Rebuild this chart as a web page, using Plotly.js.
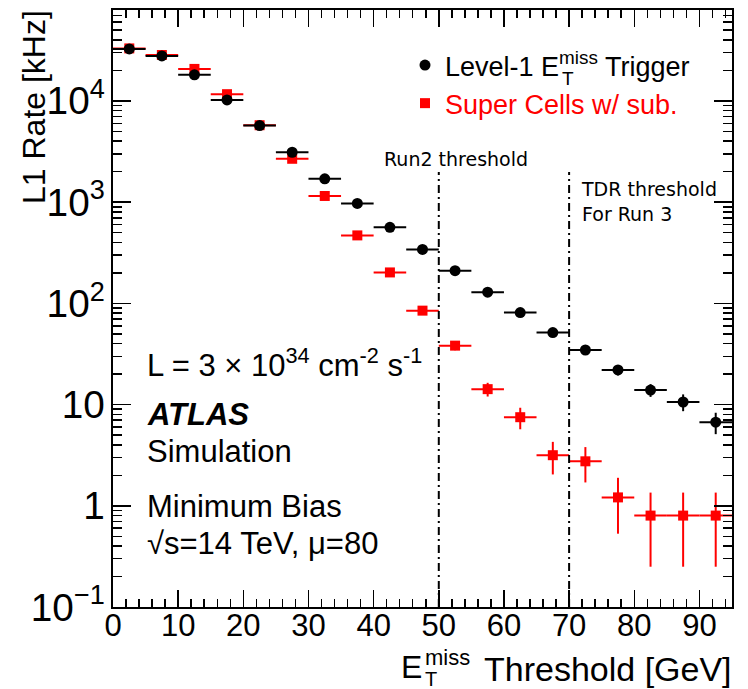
<!DOCTYPE html>
<html><head><meta charset="utf-8">
<script src="https://cdn.plot.ly/plotly-3.0.1.min.js"></script>
<style>html,body{margin:0;padding:0;background:#fff}</style>
</head><body><div id="chart" style="width:748px;height:689px"></div>
<script>
// ---- data ----
const thresholds = [2.5, 7.5, 12.5, 17.5, 22.5, 27.5, 32.5, 37.5, 42.5, 47.5, 52.5, 57.5, 62.5, 67.5, 72.5, 77.5, 82.5, 87.5, 92.5];
const binHalfWidth = 2.5;
const l1Rate = [32600, 27800, 18100, 10230, 5700, 3110, 1700, 971, 563, 341, 210, 129, 81, 51.4, 34.6, 22, 13.9, 10.6, 6.7];
const l1Err  = [110, 100, 85, 62, 46, 34, 25, 19, 15, 11, 9, 7, 5.5, 4.4, 3.5, 2.6, 2.0, 2.0, 1.6];
const scRate = [33000, 28400, 20700, 11650, 5750, 2680, 1150, 469, 202, 84.7, 38.2, 14.2, 7.5, 3.16, 2.75, 1.21, 0.8, 0.8, 0.8];
const scErr  = [112, 104, 88, 66, 46, 32, 21, 13, 8.8, 5.7, 3.8, 2.2, 1.8, 1.12, 1.05, 0.68, 0.55, 0.55, 0.55];
const thresholdLines = [50, 70];
const l1Name = 'Level-1 E<sup>miss</sup> Trigger';
const scName = 'Super Cells w/ sub.';

// ---- layout helpers (pixel -> paper) ----
const PL = 113, PR = 732, PT = 10, PB = 607;
const fx = px => (px - PL) / (PR - PL);
const fy = py => (PB - py) / (PB - PT);
const FONT = 'Liberation Sans, Arial, Helvetica, sans-serif';
const RED = '#ff0000';

const traces = [
  {
    type: 'scatter', mode: 'markers', x: thresholds, y: scRate, name: '<span style="color:#ff0000">' + scName + '</span>',
    marker: {symbol: 'square', size: 10, color: RED},
    error_x: {type: 'constant', value: binHalfWidth, color: RED, thickness: 2, width: 0},
    error_y: {type: 'data', array: scErr, color: RED, thickness: 2, width: 0}
  },
  {
    type: 'scatter', mode: 'markers', x: thresholds, y: l1Rate, name: l1Name,
    marker: {symbol: 'circle', size: 11, color: '#000'},
    error_x: {type: 'constant', value: binHalfWidth, color: '#000', thickness: 2, width: 0},
    error_y: {type: 'data', array: l1Err, color: '#000', thickness: 2, width: 0}
  }
];

const axisCommon = {
  ticks: 'inside', tickcolor: '#000', tickwidth: 1.5,
  showline: true, linewidth: 2, linecolor: '#000', mirror: 'ticks',
  showgrid: false, zeroline: false,
  tickfont: {family: FONT, size: 31, color: '#000'}
};

const shapes = thresholdLines.map(v => ({
  type: 'line', xref: 'x', yref: 'paper', x0: v, x1: v, y0: 0, y1: fy(172),
  line: {color: '#000', width: 2, dash: '8px,4px,2px,4px'}
}));

const ann = (text, px, py, opts) => Object.assign({
  text: text, xref: 'paper', yref: 'paper', x: fx(px), y: fy(py),
  xanchor: 'left', yanchor: 'middle', showarrow: false,
  font: {family: FONT, size: 31, color: '#000'}
}, opts || {});
const f = s => ({family: FONT, size: s, color: '#000'});

const annotations = [
  ann('L1 Rate [kHz]', 34, 8, {textangle: -90, xanchor: 'center', yanchor: 'top', font: f(32)}),
  // x-axis title: E with stacked T / miss, then "Threshold [GeV]"
  ann('E', 400, 667, {font: f(32), borderpad: 0}),
  ann('miss', 424, 657, {font: f(22), borderpad: 0}),
  ann('T', 424, 679, {font: f(20), borderpad: 0}),
  ann('Threshold [GeV]', 733, 668.5, {xanchor: 'right', font: f(34), borderpad: 0}),
  // legend subscript
  ann('T', 560, 78, {font: f(19)}),
  ann('Run2 threshold', 382, 159, {font: {family: 'DejaVu Sans, sans-serif', size: 19, color: '#000'}}),
  ann('TDR threshold<br>For Run 3', 579, 176, {yanchor: 'top', align: 'left', font: {family: 'DejaVu Sans, sans-serif', size: 19, color: '#000'}}),
  ann('L = 3 \u00d7 10<sup>34</sup> cm<sup>-2</sup> s<sup>-1</sup>', 145, 363),
  ann('<b><i>ATLAS</i></b>', 145, 415),
  ann('Simulation', 145, 451),
  ann('Minimum Bias', 145, 506),
  ann('\u221As=14 TeV, \u03bc=80', 145, 543)
];

const layout = {
  width: 748, height: 689,
  margin: {l: PL, r: 748 - PR, t: PT, b: 689 - PB},
  paper_bgcolor: '#fff', plot_bgcolor: '#fff',
  font: {family: FONT, color: '#000'},
  showlegend: true,
  legend: {
    x: fx(405), y: fy(41), xanchor: 'left', yanchor: 'top',
    bgcolor: 'rgba(0,0,0,0)', borderwidth: 0, traceorder: 'reversed',
    font: {family: FONT, size: 27, color: '#000'}
  },
  xaxis: Object.assign({}, axisCommon, {
    range: [0, 95], tick0: 0, dtick: 10, ticklen: 17, ticklabelstandoff: -10,
    minor: {dtick: 2, ticks: 'inside', ticklen: 8, tickwidth: 1.5, tickcolor: '#000', showgrid: false}
  }),
  yaxis: Object.assign({}, axisCommon, {
    type: 'log', range: [-1, 4.898], dtick: 1, exponentformat: 'power', ticklen: 18,
    minor: {dtick: 'D1', ticks: 'inside', ticklen: 9, tickwidth: 1.5, tickcolor: '#000', showgrid: false}
  }),
  shapes: shapes,
  annotations: annotations
};

Plotly.newPlot('chart', traces, layout, {displayModeBar: false, staticPlot: true});
</script></body></html>
